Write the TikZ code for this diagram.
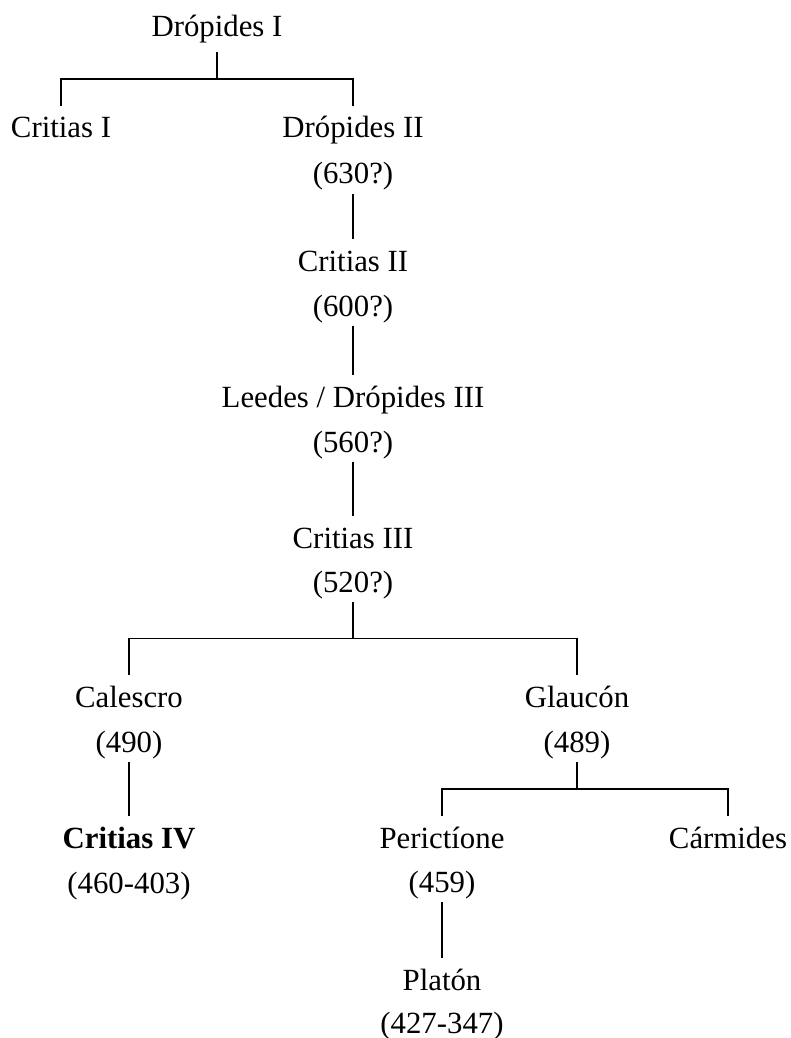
\documentclass[tikz,border=0pt]{standalone}
\usepackage{fontspec}
\setmainfont{Liberation Serif}
\usetikzlibrary{calc}
\tikzset{
  pers/.style ={anchor=base,inner sep=0pt,text height=16pt,text depth=5pt,
                font=\fontsize{15.4}{18}\selectfont},
  datum/.style={pers},
  lnk/.style  ={draw=black,line width=.9pt},
}
% parent -> child, elbow at half height
\providecommand{\kid}[2]{\draw[lnk] (#1.south) |- ($(#1.south)!.5!(#2.north)$) -| (#2.north);}

\begin{document}
\begin{tikzpicture}[x=0.5pt,y=-0.5pt]
  \useasboundingbox (0,0) rectangle (791,1038);

  % ---------- top ----------
  \node[pers,text depth=7.5pt] (dr1) at (217,37) {Drópides I};
  \node[pers] (cr1) at (61,138) {Critias I};
  \node[pers] (dr2) at (353,138) {Drópides II};
  \node[datum] (dr2d) at (353,184) {(630?)};

  % ---------- middle column ----------
  \node[pers] (cr2) at (353,271) {Critias II};
  \node[datum] (cr2d) at (353,316) {(600?)};
  \node[pers] (lee) at (353,407) {Leedes / Drópides III};
  \node[datum] (leed) at (353,452) {(560?)};
  \node[pers] (cr3) at (353,548) {Critias III};
  \node[datum] (cr3d) at (353,592) {(520?)};

  % ---------- bottom ----------
  \node[pers] (cal) at (129,707) {Calescro};
  \node[datum] (cald) at (129,752) {(490)};
  \node[pers] (gla) at (577,707) {Glaucón};
  \node[datum] (glad) at (577,752) {(489)};
  \node[pers] (cr4) at (129,848) {\bfseries Critias IV};
  \node[datum] (cr4d) at (129,893) {(460-403)};
  \node[pers] (per) at (442,848) {Perictíone};
  \node[datum] (perd) at (442,892) {(459)};
  \node[pers] (car) at (728,848) {Cármides};
  \node[pers] (pla) at (442,990) {Platón};
  \node[datum] (plad) at (442,1033) {(427-347)};

  % ---------- lines ----------
  \kid{dr1}{cr1}
  \kid{dr1}{dr2}
  \kid{dr2d}{cr2}
  \kid{cr2d}{lee}
  \kid{leed}{cr3}
  \kid{cr3d}{cal}
  \kid{cr3d}{gla}
  \kid{cald}{cr4}
  \kid{glad}{per}
  \kid{glad}{car}
  \kid{perd}{pla}

\end{tikzpicture}
\end{document}
